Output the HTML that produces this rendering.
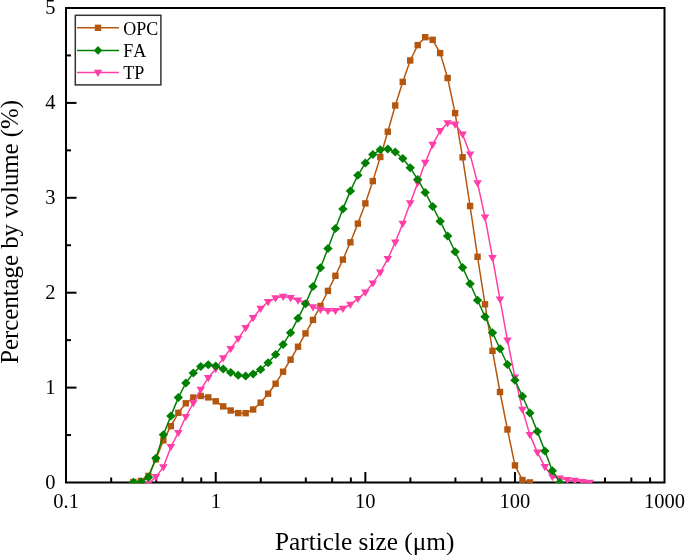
<!DOCTYPE html>
<html><head><meta charset="utf-8"><title>Particle size distribution</title>
<style>
html,body{margin:0;padding:0;background:#fff;width:685px;height:555px;overflow:hidden}
svg{display:block;will-change:transform}
text{font-family:"Liberation Serif",serif;fill:#000}
.t{font-size:20.5px}
.a{font-size:25.3px}
.l{font-size:18px;font-kerning:none}
</style></head><body>
<svg width="685" height="555" viewBox="0 0 685 555">
<defs><clipPath id="c"><rect x="65" y="7" width="600.5" height="476.2"/></clipPath></defs>
<rect width="685" height="555" fill="#fff"/>
<path d="M66,8H664.5V482.5H66Z" fill="none" stroke="#000" stroke-width="2" stroke-linecap="square"/>
<line x1="66" y1="435.05" x2="71" y2="435.05" stroke="#000" stroke-width="2"/>
<line x1="66" y1="387.60" x2="76.5" y2="387.60" stroke="#000" stroke-width="2"/>
<line x1="66" y1="340.15" x2="71" y2="340.15" stroke="#000" stroke-width="2"/>
<line x1="66" y1="292.70" x2="76.5" y2="292.70" stroke="#000" stroke-width="2"/>
<line x1="66" y1="245.25" x2="71" y2="245.25" stroke="#000" stroke-width="2"/>
<line x1="66" y1="197.80" x2="76.5" y2="197.80" stroke="#000" stroke-width="2"/>
<line x1="66" y1="150.35" x2="71" y2="150.35" stroke="#000" stroke-width="2"/>
<line x1="66" y1="102.90" x2="76.5" y2="102.90" stroke="#000" stroke-width="2"/>
<line x1="66" y1="55.45" x2="71" y2="55.45" stroke="#000" stroke-width="2"/>
<line x1="111.18" y1="482.5" x2="111.18" y2="477.5" stroke="#000" stroke-width="2"/>
<line x1="156.22" y1="482.5" x2="156.22" y2="477.5" stroke="#000" stroke-width="2"/>
<line x1="182.56" y1="482.5" x2="182.56" y2="477.5" stroke="#000" stroke-width="2"/>
<line x1="201.25" y1="482.5" x2="201.25" y2="477.5" stroke="#000" stroke-width="2"/>
<line x1="215.75" y1="482.5" x2="215.75" y2="472.0" stroke="#000" stroke-width="2"/>
<line x1="260.78" y1="482.5" x2="260.78" y2="477.5" stroke="#000" stroke-width="2"/>
<line x1="305.82" y1="482.5" x2="305.82" y2="477.5" stroke="#000" stroke-width="2"/>
<line x1="332.16" y1="482.5" x2="332.16" y2="477.5" stroke="#000" stroke-width="2"/>
<line x1="350.85" y1="482.5" x2="350.85" y2="477.5" stroke="#000" stroke-width="2"/>
<line x1="365.35" y1="482.5" x2="365.35" y2="472.0" stroke="#000" stroke-width="2"/>
<line x1="410.38" y1="482.5" x2="410.38" y2="477.5" stroke="#000" stroke-width="2"/>
<line x1="455.42" y1="482.5" x2="455.42" y2="477.5" stroke="#000" stroke-width="2"/>
<line x1="481.76" y1="482.5" x2="481.76" y2="477.5" stroke="#000" stroke-width="2"/>
<line x1="500.45" y1="482.5" x2="500.45" y2="477.5" stroke="#000" stroke-width="2"/>
<line x1="514.95" y1="482.5" x2="514.95" y2="472.0" stroke="#000" stroke-width="2"/>
<line x1="559.98" y1="482.5" x2="559.98" y2="477.5" stroke="#000" stroke-width="2"/>
<line x1="605.02" y1="482.5" x2="605.02" y2="477.5" stroke="#000" stroke-width="2"/>
<line x1="631.36" y1="482.5" x2="631.36" y2="477.5" stroke="#000" stroke-width="2"/>
<line x1="650.05" y1="482.5" x2="650.05" y2="477.5" stroke="#000" stroke-width="2"/>
<g clip-path="url(#c)">
<polyline points="133.47,482.00 140.95,481.00 148.43,475.90 155.91,459.30 163.39,440.40 170.87,426.20 178.35,412.80 185.83,403.30 193.31,397.50 200.79,396.00 208.27,397.40 215.75,401.30 223.23,406.40 230.71,410.50 238.19,413.10 245.67,413.20 253.15,409.50 260.63,402.70 268.11,393.70 275.59,383.70 283.07,371.70 290.55,359.70 298.03,346.70 305.51,333.40 312.99,319.90 320.47,306.00 327.95,290.90 335.43,275.80 342.91,259.60 350.39,242.30 357.87,223.60 365.35,203.40 372.83,181.10 380.31,157.00 387.79,131.70 395.27,105.50 402.75,81.90 410.23,60.50 417.71,45.10 425.19,37.20 432.67,39.80 440.15,53.10 447.63,78.00 455.11,113.10 462.59,157.30 470.07,206.00 477.55,256.80 485.03,304.30 492.51,350.80 499.99,392.00 507.47,429.50 514.95,465.40 522.43,480.00 529.91,482.40" fill="none" stroke="#B5560E" stroke-width="1.5" stroke-linejoin="round"/>
<rect x="130.27" y="478.80" width="6.4" height="6.4" fill="#B5560E"/>
<rect x="137.75" y="477.80" width="6.4" height="6.4" fill="#B5560E"/>
<rect x="145.23" y="472.70" width="6.4" height="6.4" fill="#B5560E"/>
<rect x="152.71" y="456.10" width="6.4" height="6.4" fill="#B5560E"/>
<rect x="160.19" y="437.20" width="6.4" height="6.4" fill="#B5560E"/>
<rect x="167.67" y="423.00" width="6.4" height="6.4" fill="#B5560E"/>
<rect x="175.15" y="409.60" width="6.4" height="6.4" fill="#B5560E"/>
<rect x="182.63" y="400.10" width="6.4" height="6.4" fill="#B5560E"/>
<rect x="190.11" y="394.30" width="6.4" height="6.4" fill="#B5560E"/>
<rect x="197.59" y="392.80" width="6.4" height="6.4" fill="#B5560E"/>
<rect x="205.07" y="394.20" width="6.4" height="6.4" fill="#B5560E"/>
<rect x="212.55" y="398.10" width="6.4" height="6.4" fill="#B5560E"/>
<rect x="220.03" y="403.20" width="6.4" height="6.4" fill="#B5560E"/>
<rect x="227.51" y="407.30" width="6.4" height="6.4" fill="#B5560E"/>
<rect x="234.99" y="409.90" width="6.4" height="6.4" fill="#B5560E"/>
<rect x="242.47" y="410.00" width="6.4" height="6.4" fill="#B5560E"/>
<rect x="249.95" y="406.30" width="6.4" height="6.4" fill="#B5560E"/>
<rect x="257.43" y="399.50" width="6.4" height="6.4" fill="#B5560E"/>
<rect x="264.91" y="390.50" width="6.4" height="6.4" fill="#B5560E"/>
<rect x="272.39" y="380.50" width="6.4" height="6.4" fill="#B5560E"/>
<rect x="279.87" y="368.50" width="6.4" height="6.4" fill="#B5560E"/>
<rect x="287.35" y="356.50" width="6.4" height="6.4" fill="#B5560E"/>
<rect x="294.83" y="343.50" width="6.4" height="6.4" fill="#B5560E"/>
<rect x="302.31" y="330.20" width="6.4" height="6.4" fill="#B5560E"/>
<rect x="309.79" y="316.70" width="6.4" height="6.4" fill="#B5560E"/>
<rect x="317.27" y="302.80" width="6.4" height="6.4" fill="#B5560E"/>
<rect x="324.75" y="287.70" width="6.4" height="6.4" fill="#B5560E"/>
<rect x="332.23" y="272.60" width="6.4" height="6.4" fill="#B5560E"/>
<rect x="339.71" y="256.40" width="6.4" height="6.4" fill="#B5560E"/>
<rect x="347.19" y="239.10" width="6.4" height="6.4" fill="#B5560E"/>
<rect x="354.67" y="220.40" width="6.4" height="6.4" fill="#B5560E"/>
<rect x="362.15" y="200.20" width="6.4" height="6.4" fill="#B5560E"/>
<rect x="369.63" y="177.90" width="6.4" height="6.4" fill="#B5560E"/>
<rect x="377.11" y="153.80" width="6.4" height="6.4" fill="#B5560E"/>
<rect x="384.59" y="128.50" width="6.4" height="6.4" fill="#B5560E"/>
<rect x="392.07" y="102.30" width="6.4" height="6.4" fill="#B5560E"/>
<rect x="399.55" y="78.70" width="6.4" height="6.4" fill="#B5560E"/>
<rect x="407.03" y="57.30" width="6.4" height="6.4" fill="#B5560E"/>
<rect x="414.51" y="41.90" width="6.4" height="6.4" fill="#B5560E"/>
<rect x="421.99" y="34.00" width="6.4" height="6.4" fill="#B5560E"/>
<rect x="429.47" y="36.60" width="6.4" height="6.4" fill="#B5560E"/>
<rect x="436.95" y="49.90" width="6.4" height="6.4" fill="#B5560E"/>
<rect x="444.43" y="74.80" width="6.4" height="6.4" fill="#B5560E"/>
<rect x="451.91" y="109.90" width="6.4" height="6.4" fill="#B5560E"/>
<rect x="459.39" y="154.10" width="6.4" height="6.4" fill="#B5560E"/>
<rect x="466.87" y="202.80" width="6.4" height="6.4" fill="#B5560E"/>
<rect x="474.35" y="253.60" width="6.4" height="6.4" fill="#B5560E"/>
<rect x="481.83" y="301.10" width="6.4" height="6.4" fill="#B5560E"/>
<rect x="489.31" y="347.60" width="6.4" height="6.4" fill="#B5560E"/>
<rect x="496.79" y="388.80" width="6.4" height="6.4" fill="#B5560E"/>
<rect x="504.27" y="426.30" width="6.4" height="6.4" fill="#B5560E"/>
<rect x="511.75" y="462.20" width="6.4" height="6.4" fill="#B5560E"/>
<rect x="519.23" y="476.80" width="6.4" height="6.4" fill="#B5560E"/>
<rect x="526.71" y="479.20" width="6.4" height="6.4" fill="#B5560E"/>
<polyline points="148.43,483.60 155.91,476.90 163.39,467.10 170.87,446.90 178.35,432.70 185.83,416.70 193.31,403.00 200.79,389.50 208.27,377.80 215.75,368.90 223.23,358.10 230.71,348.80 238.19,338.60 245.67,327.90 253.15,317.80 260.63,308.50 268.11,301.90 275.59,298.00 283.07,296.60 290.55,297.80 298.03,300.40 305.51,303.30 312.99,307.00 320.47,309.60 327.95,310.80 335.43,310.70 342.91,308.50 350.39,304.50 357.87,298.70 365.35,292.40 372.83,283.20 380.31,272.30 387.79,258.90 395.27,242.40 402.75,223.50 410.23,203.10 417.71,182.90 425.19,162.60 432.67,144.60 440.15,130.90 447.63,123.10 455.11,124.30 462.59,134.30 470.07,154.20 477.55,183.00 485.03,217.30 492.51,257.80 499.99,299.40 507.47,340.30 514.95,377.20 522.43,409.60 529.91,434.90 537.39,452.40 544.87,466.80 552.35,476.90 559.83,478.30 567.31,479.90 574.79,480.60 582.27,481.80 589.75,482.60" fill="none" stroke="#FF3EA8" stroke-width="1.5" stroke-linejoin="round"/>
<path d="M144.13,480.80L152.73,480.80L148.43,488.00Z" fill="#FF3EA8"/>
<path d="M151.61,474.10L160.21,474.10L155.91,481.30Z" fill="#FF3EA8"/>
<path d="M159.09,464.30L167.69,464.30L163.39,471.50Z" fill="#FF3EA8"/>
<path d="M166.57,444.10L175.17,444.10L170.87,451.30Z" fill="#FF3EA8"/>
<path d="M174.05,429.90L182.65,429.90L178.35,437.10Z" fill="#FF3EA8"/>
<path d="M181.53,413.90L190.13,413.90L185.83,421.10Z" fill="#FF3EA8"/>
<path d="M189.01,400.20L197.61,400.20L193.31,407.40Z" fill="#FF3EA8"/>
<path d="M196.49,386.70L205.09,386.70L200.79,393.90Z" fill="#FF3EA8"/>
<path d="M203.97,375.00L212.57,375.00L208.27,382.20Z" fill="#FF3EA8"/>
<path d="M211.45,366.10L220.05,366.10L215.75,373.30Z" fill="#FF3EA8"/>
<path d="M218.93,355.30L227.53,355.30L223.23,362.50Z" fill="#FF3EA8"/>
<path d="M226.41,346.00L235.01,346.00L230.71,353.20Z" fill="#FF3EA8"/>
<path d="M233.89,335.80L242.49,335.80L238.19,343.00Z" fill="#FF3EA8"/>
<path d="M241.37,325.10L249.97,325.10L245.67,332.30Z" fill="#FF3EA8"/>
<path d="M248.85,315.00L257.45,315.00L253.15,322.20Z" fill="#FF3EA8"/>
<path d="M256.33,305.70L264.93,305.70L260.63,312.90Z" fill="#FF3EA8"/>
<path d="M263.81,299.10L272.41,299.10L268.11,306.30Z" fill="#FF3EA8"/>
<path d="M271.29,295.20L279.89,295.20L275.59,302.40Z" fill="#FF3EA8"/>
<path d="M278.77,293.80L287.37,293.80L283.07,301.00Z" fill="#FF3EA8"/>
<path d="M286.25,295.00L294.85,295.00L290.55,302.20Z" fill="#FF3EA8"/>
<path d="M293.73,297.60L302.33,297.60L298.03,304.80Z" fill="#FF3EA8"/>
<path d="M301.21,300.50L309.81,300.50L305.51,307.70Z" fill="#FF3EA8"/>
<path d="M308.69,304.20L317.29,304.20L312.99,311.40Z" fill="#FF3EA8"/>
<path d="M316.17,306.80L324.77,306.80L320.47,314.00Z" fill="#FF3EA8"/>
<path d="M323.65,308.00L332.25,308.00L327.95,315.20Z" fill="#FF3EA8"/>
<path d="M331.13,307.90L339.73,307.90L335.43,315.10Z" fill="#FF3EA8"/>
<path d="M338.61,305.70L347.21,305.70L342.91,312.90Z" fill="#FF3EA8"/>
<path d="M346.09,301.70L354.69,301.70L350.39,308.90Z" fill="#FF3EA8"/>
<path d="M353.57,295.90L362.17,295.90L357.87,303.10Z" fill="#FF3EA8"/>
<path d="M361.05,289.60L369.65,289.60L365.35,296.80Z" fill="#FF3EA8"/>
<path d="M368.53,280.40L377.13,280.40L372.83,287.60Z" fill="#FF3EA8"/>
<path d="M376.01,269.50L384.61,269.50L380.31,276.70Z" fill="#FF3EA8"/>
<path d="M383.49,256.10L392.09,256.10L387.79,263.30Z" fill="#FF3EA8"/>
<path d="M390.97,239.60L399.57,239.60L395.27,246.80Z" fill="#FF3EA8"/>
<path d="M398.45,220.70L407.05,220.70L402.75,227.90Z" fill="#FF3EA8"/>
<path d="M405.93,200.30L414.53,200.30L410.23,207.50Z" fill="#FF3EA8"/>
<path d="M413.41,180.10L422.01,180.10L417.71,187.30Z" fill="#FF3EA8"/>
<path d="M420.89,159.80L429.49,159.80L425.19,167.00Z" fill="#FF3EA8"/>
<path d="M428.37,141.80L436.97,141.80L432.67,149.00Z" fill="#FF3EA8"/>
<path d="M435.85,128.10L444.45,128.10L440.15,135.30Z" fill="#FF3EA8"/>
<path d="M443.33,120.30L451.93,120.30L447.63,127.50Z" fill="#FF3EA8"/>
<path d="M450.81,121.50L459.41,121.50L455.11,128.70Z" fill="#FF3EA8"/>
<path d="M458.29,131.50L466.89,131.50L462.59,138.70Z" fill="#FF3EA8"/>
<path d="M465.77,151.40L474.37,151.40L470.07,158.60Z" fill="#FF3EA8"/>
<path d="M473.25,180.20L481.85,180.20L477.55,187.40Z" fill="#FF3EA8"/>
<path d="M480.73,214.50L489.33,214.50L485.03,221.70Z" fill="#FF3EA8"/>
<path d="M488.21,255.00L496.81,255.00L492.51,262.20Z" fill="#FF3EA8"/>
<path d="M495.69,296.60L504.29,296.60L499.99,303.80Z" fill="#FF3EA8"/>
<path d="M503.17,337.50L511.77,337.50L507.47,344.70Z" fill="#FF3EA8"/>
<path d="M510.65,374.40L519.25,374.40L514.95,381.60Z" fill="#FF3EA8"/>
<path d="M518.13,406.80L526.73,406.80L522.43,414.00Z" fill="#FF3EA8"/>
<path d="M525.61,432.10L534.21,432.10L529.91,439.30Z" fill="#FF3EA8"/>
<path d="M533.09,449.60L541.69,449.60L537.39,456.80Z" fill="#FF3EA8"/>
<path d="M540.57,464.00L549.17,464.00L544.87,471.20Z" fill="#FF3EA8"/>
<path d="M548.05,474.10L556.65,474.10L552.35,481.30Z" fill="#FF3EA8"/>
<path d="M555.53,475.50L564.13,475.50L559.83,482.70Z" fill="#FF3EA8"/>
<path d="M563.01,477.10L571.61,477.10L567.31,484.30Z" fill="#FF3EA8"/>
<path d="M570.49,477.80L579.09,477.80L574.79,485.00Z" fill="#FF3EA8"/>
<path d="M577.97,479.00L586.57,479.00L582.27,486.20Z" fill="#FF3EA8"/>
<path d="M585.45,479.80L594.05,479.80L589.75,487.00Z" fill="#FF3EA8"/>
<polyline points="133.47,482.30 140.95,482.00 148.43,477.30 155.91,458.20 163.39,434.70 170.87,415.90 178.35,397.60 185.83,383.00 193.31,373.00 200.79,366.40 208.27,364.70 215.75,366.00 223.23,369.00 230.71,372.40 238.19,375.20 245.67,376.00 253.15,373.90 260.63,369.50 268.11,362.80 275.59,354.40 283.07,344.40 290.55,332.70 298.03,318.30 305.51,303.70 312.99,286.60 320.47,267.80 327.95,248.40 335.43,228.60 342.91,208.90 350.39,190.90 357.87,175.30 365.35,163.10 372.83,154.40 380.31,149.80 387.79,148.90 395.27,152.00 402.75,158.50 410.23,167.80 417.71,179.40 425.19,192.40 432.67,206.50 440.15,221.20 447.63,236.10 455.11,251.70 462.59,267.40 470.07,283.80 477.55,300.20 485.03,316.70 492.51,332.80 499.99,348.80 507.47,364.50 514.95,380.20 522.43,396.30 529.91,413.00 537.39,431.60 544.87,451.00 552.35,470.70 559.83,482.60" fill="none" stroke="#008000" stroke-width="1.5" stroke-linejoin="round"/>
<path d="M133.47,477.80L138.17,482.30L133.47,486.80L128.77,482.30Z" fill="#008000"/>
<path d="M140.95,477.50L145.65,482.00L140.95,486.50L136.25,482.00Z" fill="#008000"/>
<path d="M148.43,472.80L153.13,477.30L148.43,481.80L143.73,477.30Z" fill="#008000"/>
<path d="M155.91,453.70L160.61,458.20L155.91,462.70L151.21,458.20Z" fill="#008000"/>
<path d="M163.39,430.20L168.09,434.70L163.39,439.20L158.69,434.70Z" fill="#008000"/>
<path d="M170.87,411.40L175.57,415.90L170.87,420.40L166.17,415.90Z" fill="#008000"/>
<path d="M178.35,393.10L183.05,397.60L178.35,402.10L173.65,397.60Z" fill="#008000"/>
<path d="M185.83,378.50L190.53,383.00L185.83,387.50L181.13,383.00Z" fill="#008000"/>
<path d="M193.31,368.50L198.01,373.00L193.31,377.50L188.61,373.00Z" fill="#008000"/>
<path d="M200.79,361.90L205.49,366.40L200.79,370.90L196.09,366.40Z" fill="#008000"/>
<path d="M208.27,360.20L212.97,364.70L208.27,369.20L203.57,364.70Z" fill="#008000"/>
<path d="M215.75,361.50L220.45,366.00L215.75,370.50L211.05,366.00Z" fill="#008000"/>
<path d="M223.23,364.50L227.93,369.00L223.23,373.50L218.53,369.00Z" fill="#008000"/>
<path d="M230.71,367.90L235.41,372.40L230.71,376.90L226.01,372.40Z" fill="#008000"/>
<path d="M238.19,370.70L242.89,375.20L238.19,379.70L233.49,375.20Z" fill="#008000"/>
<path d="M245.67,371.50L250.37,376.00L245.67,380.50L240.97,376.00Z" fill="#008000"/>
<path d="M253.15,369.40L257.85,373.90L253.15,378.40L248.45,373.90Z" fill="#008000"/>
<path d="M260.63,365.00L265.33,369.50L260.63,374.00L255.93,369.50Z" fill="#008000"/>
<path d="M268.11,358.30L272.81,362.80L268.11,367.30L263.41,362.80Z" fill="#008000"/>
<path d="M275.59,349.90L280.29,354.40L275.59,358.90L270.89,354.40Z" fill="#008000"/>
<path d="M283.07,339.90L287.77,344.40L283.07,348.90L278.37,344.40Z" fill="#008000"/>
<path d="M290.55,328.20L295.25,332.70L290.55,337.20L285.85,332.70Z" fill="#008000"/>
<path d="M298.03,313.80L302.73,318.30L298.03,322.80L293.33,318.30Z" fill="#008000"/>
<path d="M305.51,299.20L310.21,303.70L305.51,308.20L300.81,303.70Z" fill="#008000"/>
<path d="M312.99,282.10L317.69,286.60L312.99,291.10L308.29,286.60Z" fill="#008000"/>
<path d="M320.47,263.30L325.17,267.80L320.47,272.30L315.77,267.80Z" fill="#008000"/>
<path d="M327.95,243.90L332.65,248.40L327.95,252.90L323.25,248.40Z" fill="#008000"/>
<path d="M335.43,224.10L340.13,228.60L335.43,233.10L330.73,228.60Z" fill="#008000"/>
<path d="M342.91,204.40L347.61,208.90L342.91,213.40L338.21,208.90Z" fill="#008000"/>
<path d="M350.39,186.40L355.09,190.90L350.39,195.40L345.69,190.90Z" fill="#008000"/>
<path d="M357.87,170.80L362.57,175.30L357.87,179.80L353.17,175.30Z" fill="#008000"/>
<path d="M365.35,158.60L370.05,163.10L365.35,167.60L360.65,163.10Z" fill="#008000"/>
<path d="M372.83,149.90L377.53,154.40L372.83,158.90L368.13,154.40Z" fill="#008000"/>
<path d="M380.31,145.30L385.01,149.80L380.31,154.30L375.61,149.80Z" fill="#008000"/>
<path d="M387.79,144.40L392.49,148.90L387.79,153.40L383.09,148.90Z" fill="#008000"/>
<path d="M395.27,147.50L399.97,152.00L395.27,156.50L390.57,152.00Z" fill="#008000"/>
<path d="M402.75,154.00L407.45,158.50L402.75,163.00L398.05,158.50Z" fill="#008000"/>
<path d="M410.23,163.30L414.93,167.80L410.23,172.30L405.53,167.80Z" fill="#008000"/>
<path d="M417.71,174.90L422.41,179.40L417.71,183.90L413.01,179.40Z" fill="#008000"/>
<path d="M425.19,187.90L429.89,192.40L425.19,196.90L420.49,192.40Z" fill="#008000"/>
<path d="M432.67,202.00L437.37,206.50L432.67,211.00L427.97,206.50Z" fill="#008000"/>
<path d="M440.15,216.70L444.85,221.20L440.15,225.70L435.45,221.20Z" fill="#008000"/>
<path d="M447.63,231.60L452.33,236.10L447.63,240.60L442.93,236.10Z" fill="#008000"/>
<path d="M455.11,247.20L459.81,251.70L455.11,256.20L450.41,251.70Z" fill="#008000"/>
<path d="M462.59,262.90L467.29,267.40L462.59,271.90L457.89,267.40Z" fill="#008000"/>
<path d="M470.07,279.30L474.77,283.80L470.07,288.30L465.37,283.80Z" fill="#008000"/>
<path d="M477.55,295.70L482.25,300.20L477.55,304.70L472.85,300.20Z" fill="#008000"/>
<path d="M485.03,312.20L489.73,316.70L485.03,321.20L480.33,316.70Z" fill="#008000"/>
<path d="M492.51,328.30L497.21,332.80L492.51,337.30L487.81,332.80Z" fill="#008000"/>
<path d="M499.99,344.30L504.69,348.80L499.99,353.30L495.29,348.80Z" fill="#008000"/>
<path d="M507.47,360.00L512.17,364.50L507.47,369.00L502.77,364.50Z" fill="#008000"/>
<path d="M514.95,375.70L519.65,380.20L514.95,384.70L510.25,380.20Z" fill="#008000"/>
<path d="M522.43,391.80L527.13,396.30L522.43,400.80L517.73,396.30Z" fill="#008000"/>
<path d="M529.91,408.50L534.61,413.00L529.91,417.50L525.21,413.00Z" fill="#008000"/>
<path d="M537.39,427.10L542.09,431.60L537.39,436.10L532.69,431.60Z" fill="#008000"/>
<path d="M544.87,446.50L549.57,451.00L544.87,455.50L540.17,451.00Z" fill="#008000"/>
<path d="M552.35,466.20L557.05,470.70L552.35,475.20L547.65,470.70Z" fill="#008000"/>
<path d="M559.83,478.10L564.53,482.60L559.83,487.10L555.13,482.60Z" fill="#008000"/>
</g>
<rect x="75.3" y="15.3" width="85.6" height="69.6" fill="#fff" stroke="#333" stroke-width="1.5"/>
<line x1="77" y1="27.8" x2="119" y2="27.8" stroke="#B5560E" stroke-width="1.5"/>
<rect x="94.80" y="24.60" width="6.4" height="6.4" fill="#B5560E"/>
<text x="123.3" y="34.8" class="l">OPC</text>
<line x1="77" y1="50.4" x2="119" y2="50.4" stroke="#008000" stroke-width="1.5"/>
<path d="M98.00,46.00L102.20,50.40L98.00,54.80L93.80,50.40Z" fill="#008000"/>
<text x="123.3" y="56.9" class="l">FA</text>
<line x1="77" y1="72.6" x2="119" y2="72.6" stroke="#FF3EA8" stroke-width="1.5"/>
<path d="M93.70,69.80L102.30,69.80L98.00,77.00Z" fill="#FF3EA8"/>
<text x="123.3" y="79.0" class="l">TP</text>
<text x="55.5" y="488.50" text-anchor="end" class="t">0</text>
<text x="55.5" y="393.60" text-anchor="end" class="t">1</text>
<text x="55.5" y="298.70" text-anchor="end" class="t">2</text>
<text x="55.5" y="203.80" text-anchor="end" class="t">3</text>
<text x="55.5" y="108.90" text-anchor="end" class="t">4</text>
<text x="55.5" y="14.00" text-anchor="end" class="t">5</text>
<text x="66.15" y="508" text-anchor="middle" class="t">0.1</text>
<text x="215.75" y="508" text-anchor="middle" class="t">1</text>
<text x="365.35" y="508" text-anchor="middle" class="t">10</text>
<text x="514.95" y="508" text-anchor="middle" class="t">100</text>
<text x="664.55" y="508" text-anchor="middle" class="t">1000</text>
<text x="364.7" y="549.5" text-anchor="middle" class="a">Particle size (μm)</text>
<text transform="translate(18,231.9) rotate(-90)" x="0" y="0" text-anchor="middle" class="a" style="font-size:24.8px">Percentage by volume (%)</text>
</svg>
</body></html>
